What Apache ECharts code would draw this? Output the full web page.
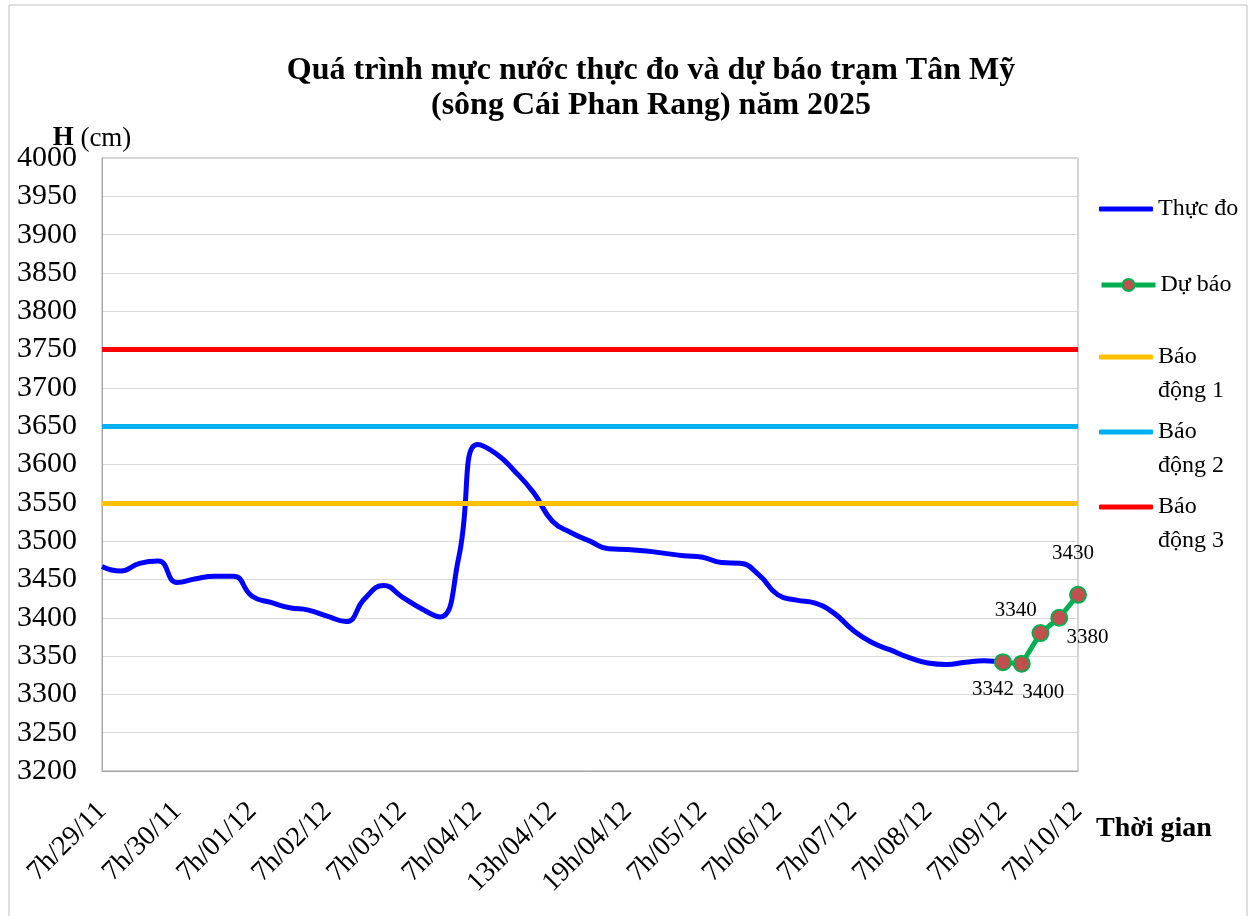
<!DOCTYPE html>
<html lang="vi">
<head>
    <meta charset="UTF-8" />
    <title>Mực nước trạm Tân Mỹ</title>
    <script src="https://cdn.jsdelivr.net/npm/echarts@6/dist/echarts.min.js"></script>
    <style>
        body { margin: 0; background: #fff; }
        #main { width: 1255px; height: 916px; }
    </style>
</head>
<body>
    <div id="main"></div>
    <script>
        // trục thời gian (nhãn hiện mỗi 4 mốc)
        var times = [
            "7h/29/11", "13h/29/11", "19h/29/11", "1h/30/11",
            "7h/30/11", "13h/30/11", "19h/30/11", "1h/01/12",
            "7h/01/12", "13h/01/12", "19h/01/12", "1h/02/12",
            "7h/02/12", "13h/02/12", "19h/02/12", "1h/03/12",
            "7h/03/12", "13h/03/12", "19h/03/12", "1h/04/12",
            "7h/04/12", "8h/04/12", "10h/04/12", "11h/04/12",
            "13h/04/12", "14h/04/12", "16h/04/12", "17h/04/12",
            "19h/04/12", "22h/04/12", "1h/05/12", "4h/05/12",
            "7h/05/12", "13h/05/12", "19h/05/12", "1h/06/12",
            "7h/06/12", "13h/06/12", "19h/06/12", "1h/07/12",
            "7h/07/12", "13h/07/12", "19h/07/12", "1h/08/12",
            "7h/08/12", "13h/08/12", "19h/08/12", "1h/09/12",
            "7h/09/12", "13h/09/12", "19h/09/12", "1h/10/12",
            "7h/10/12"
        ];

        // mực nước thực đo (cm)
        var thucDo = [
            3467, 3461, 3471, 3474, 3446, 3451, 3454, 3454,
            3428, 3420, 3413, 3410, 3402, 3395, 3425, 3442,
            3427, 3412, 3401, 3478, 3626, 3614, 3591, 3563,
            3526, 3511, 3500, 3490, 3489, 3487, 3484, 3481,
            3479, 3472, 3471, 3456, 3430, 3423, 3419, 3406,
            3384, 3368, 3358, 3348, 3341, 3339, 3342, 3344,
            3342
        ];

        // dự báo
        var duBaoTimes = ["7h/09/12", "13h/09/12", "19h/09/12", "1h/10/12", "7h/10/12"];
        var duBao = [3342, 3340, 3380, 3400, 3430];
        // vị trí nhãn số liệu (dịch so với điểm)
        var duBaoLabelOffset = [[-10, 27], [-6, -53], [47, 4], [-16, 75], [-5, -41]];

        // mức báo động
        var baoDong1 = 3550;
        var baoDong2 = 3650;
        var baoDong3 = 3750;

        var serif = "'Liberation Serif', 'Times New Roman', serif";

        var chart = echarts.init(document.getElementById("main"));

        function alarmSeries(name, value, color) {
            return {
                name: name,
                type: "line",
                data: [],
                color: color,
                lineStyle: { color: color, width: 5 },
                symbol: "none",
                z: 1,
                markLine: {
                    silent: true,
                    symbol: "none",
                    label: { show: false },
                    lineStyle: { color: color, width: 5, type: "solid" },
                    data: [{ yAxis: value }]
                }
            };
        }

        // mỗi mục chú giải một legend riêng để canh vị trí như bản gốc
        function legendItem(name, top, lineOnly) {
            var item = { name: name };
            if (lineOnly) item.icon = "roundRect";
            return {
                orient: "vertical",
                left: 1094,
                top: top,
                itemWidth: 54,
                itemHeight: lineOnly ? 5 : 15,
                itemGap: 0,
                data: [item],
                lineStyle: { width: 5 },
                formatter: function (n) {
                    if (n.indexOf("Báo động") === 0) {
                        return "\nBáo\n" + n.replace("Báo ", "");
                    }
                    return n;
                },
                textStyle: {
                    fontFamily: serif,
                    fontSize: 24,
                    color: "#000",
                    lineHeight: 34
                }
            };
        }

        var option = {
            backgroundColor: "#fff",
            animation: false,
            title: {
                text: "{t|Quá trình mực nước thực đo và dự báo trạm Tân Mỹ}\n{t|(sông Cái Phan Rang) năm 2025}",
                left: 266,
                top: 48,
                textAlign: "left",
                textStyle: {
                    fontFamily: serif,
                    fontSize: 32,
                    fontWeight: "bold",
                    color: "#000",
                    lineHeight: 35,
                    rich: {
                        t: {
                            width: 760,
                            align: "center",
                            fontFamily: serif,
                            fontSize: 32,
                            fontWeight: "bold",
                            color: "#000",
                            lineHeight: 35
                        }
                    }
                }
            },
            legend: [
                legendItem("Thực đo", 187, true),
                legendItem("Dự báo", 263, false),
                legendItem("Báo động 1", 301, true),
                legendItem("Báo động 2", 376, true),
                legendItem("Báo động 3", 451, true)
            ],
            graphic: [{
                type: "rect",
                shape: { x: 9, y: 5, width: 1238, height: 930 },
                style: { fill: "none", stroke: "#BFBFBF", lineWidth: 1 },
                silent: true
            }],
            grid: {
                left: 102,
                right: 177,
                top: 158,
                bottom: 145,
                show: true,
                borderColor: "#A6A6A6",
                borderWidth: 1
            },
            xAxis: {
                type: "category",
                data: times,
                boundaryGap: false,
                name: "Thời gian",
                nameLocation: "end",
                nameGap: 18,
                nameMoveOverlap: false,
                nameTextStyle: {
                    fontFamily: serif,
                    fontSize: 28,
                    fontWeight: "bold",
                    color: "#000",
                    verticalAlign: "top",
                    padding: [44, 0, 0, 0]
                },
                axisLine: { lineStyle: { color: "#A6A6A6", width: 1 } },
                axisTick: { show: false },
                axisLabel: {
                    interval: 3,
                    rotate: 45,
                    margin: 36,
                    fontFamily: serif,
                    fontSize: 28,
                    color: "#000"
                },
                splitLine: { show: false }
            },
            yAxis: {
                type: "value",
                min: 3200,
                max: 4000,
                interval: 50,
                name: "{b|H} (cm)",
                nameLocation: "end",
                nameGap: 6,
                nameMoveOverlap: false,
                nameTextStyle: {
                    fontFamily: serif,
                    fontSize: 27,
                    color: "#000",
                    padding: [0, 20, 0, 0],
                    rich: {
                        b: { fontFamily: serif, fontSize: 27, fontWeight: "bold", color: "#000" }
                    }
                },
                axisLine: { show: true, lineStyle: { color: "#A6A6A6", width: 1 } },
                axisTick: { show: false },
                axisLabel: {
                    margin: 25,
                    fontFamily: serif,
                    fontSize: 30,
                    color: "#000",
                    formatter: function (v) { return String(v); }
                },
                splitLine: { lineStyle: { color: "#D9D9D9", width: 1 } }
            },
            series: [
                {
                    name: "Thực đo",
                    type: "line",
                    data: thucDo,
                    smooth: 0.5,
                    symbol: "none",
                    color: "#0000FF",
                    lineStyle: { color: "#0000FF", width: 5 },
                    z: 3
                },
                {
                    name: "Dự báo",
                    type: "line",
                    data: duBaoTimes.map(function (t, i) { return [t, duBao[i]]; }),
                    symbol: "circle",
                    symbolSize: 16,
                    showAllSymbol: true,
                    color: "#C0504D",
                    itemStyle: { color: "#C0504D", borderColor: "#00B050", borderWidth: 2 },
                    lineStyle: { color: "#00B050", width: 5 },
                    z: 4,
                    label: {
                        show: true,
                        position: "inside",
                        fontFamily: serif,
                        fontSize: 21,
                        color: "#000",
                        formatter: function (p) { return duBao[p.dataIndex]; }
                    },
                    labelLayout: function (p) {
                        var o = duBaoLabelOffset[p.dataIndex];
                        return { dx: o[0], dy: o[1] };
                    }
                },
                alarmSeries("Báo động 1", baoDong1, "#FFC000"),
                alarmSeries("Báo động 2", baoDong2, "#00B0F0"),
                alarmSeries("Báo động 3", baoDong3, "#FF0000")
            ]
        };
        chart.setOption(option);
    </script>
</body>
</html>
